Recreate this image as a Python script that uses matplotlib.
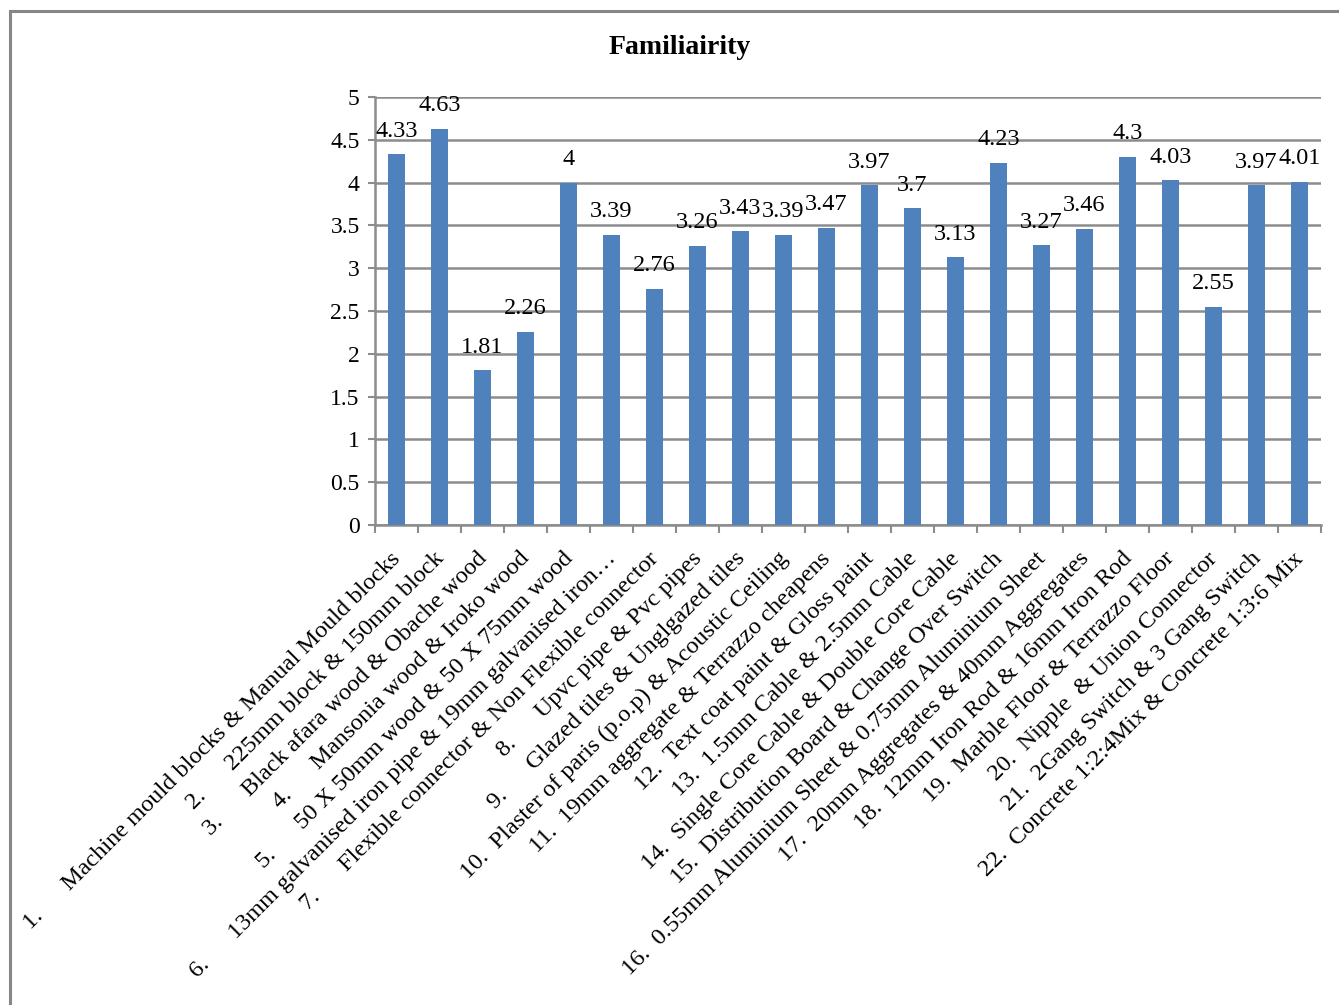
#!/usr/bin/env python3
# -*- coding: utf-8 -*-
"""Familiairity bar chart (Excel style) re-drawn with matplotlib."""

import numpy as np
import matplotlib
matplotlib.use("Agg")
import matplotlib.pyplot as plt
from matplotlib.patches import Rectangle
from matplotlib.transforms import ScaledTranslation

# ----------------------------------------------------------------------
# data
# ----------------------------------------------------------------------
TAB1 = "      "  # tab gap after single-digit numbers
TAB2 = "  "      # tab gap after two-digit numbers

item_names = [
    "Machine mould blocks & Manual Mould blocks",
    "225mm block & 150mm block",
    "Black afara wood & Obache wood",
    "Mansonia wood & Iroko wood",
    "50 X 50mm wood & 50 X 75mm wood",
    "13mm galvanised iron pipe & 19mm galvanised iron…",
    "Flexible connector & Non Flexible connector",
    "Upvc pipe & Pvc pipes",
    "Glazed tiles & Unglgazed tiles",
    "Plaster of paris (p.o.p) & Acoustic Ceiling",
    "19mm aggregate & Terrazzo cheapens",
    "Text coat paint & Gloss paint",
    "1.5mm Cable & 2.5mm Cable",
    "Single Core Cable & Double Core Cable",
    "Distribution Board & Change Over Switch",
    "0.55mm Aluminium Sheet & 0.75mm Aluminium Sheet",
    "20mm Aggregates & 40mm Aggregates",
    "12mm Iron Rod & 16mm Iron Rod",
    "Marble Floor & Terrazzo Floor",
    "Nipple  & Union Connector",
    "2Gang Switch & 3 Gang Switch",
    "Concrete 1:2:4Mix & Concrete 1:3:6 Mix",
]

familiarity = [4.33, 4.63, 1.81, 2.26, 4, 3.39, 2.76, 3.26, 3.43, 3.39, 3.47,
               3.97, 3.7, 3.13, 4.23, 3.27, 3.46, 4.3, 4.03, 2.55, 3.97, 4.01]

y_ticks = [0, 0.5, 1, 1.5, 2, 2.5, 3, 3.5, 4, 4.5, 5]

# ----------------------------------------------------------------------
# figure
# ----------------------------------------------------------------------
plt.rcParams["font.family"] = ["Liberation Serif", "DejaVu Serif"]

W, H = 1339, 1005
fig = plt.figure(figsize=(W / 100, H / 100), dpi=100)
fig.patch.set_facecolor("white")

# chart area border (only top/left visible, rest cropped off)
fig.patches.append(Rectangle((9.5 / W, -0.2), 1.2, 1.2 - 10.5 / H,
                             transform=fig.transFigure, fill=False,
                             edgecolor="#868686", linewidth=2.2))

ax = fig.add_axes([375 / W, 1 - 525 / H, (1321 - 375) / W, (525 - 97) / H])

n = len(familiarity)
x = np.arange(n)
grid_col = "#8c8c8c"

ax.bar(x, familiarity, width=0.38, color="#4F81BD", zorder=3)

ax.set_xlim(-0.5, n - 0.5)
ax.set_ylim(0, 5)
ax.set_yticks(y_ticks)
ax.set_yticklabels([f"{v:g}" for v in y_ticks], fontsize=17)
ax.yaxis.grid(True, color=grid_col, linewidth=1.8, zorder=0)

for s in ("top", "right"):
    ax.spines[s].set_visible(False)
for s in ("left", "bottom"):
    ax.spines[s].set_color(grid_col)
    ax.spines[s].set_linewidth(1.8)

ax.tick_params(axis="y", length=5, width=1.5, color=grid_col, pad=6)

# category boundary ticks
ax.set_xticks(np.arange(n + 1) - 0.5, minor=True)
ax.tick_params(axis="x", which="minor", length=6, width=1.5, color=grid_col)
ax.tick_params(axis="x", which="major", length=0, pad=22)

labels = []
for i, name in enumerate(item_names, start=1):
    gap = TAB1 if i < 10 else TAB2
    labels.append(f"{i}.{gap}{name}")
ax.set_xticks(x)
ax.set_xticklabels(labels, rotation=45, ha="right", va="center",
                   rotation_mode="anchor", fontsize=17.5)
shift = ScaledTranslation(0.01, 0, fig.dpi_scale_trans)
for lbl in ax.get_xticklabels():
    lbl.set_transform(lbl.get_transform() + shift)

# data labels
for xi, v in zip(x, familiarity):
    ax.annotate(f"{v:g}", (xi, v), xytext=(0, 9), textcoords="offset points",
                ha="center", va="bottom", fontsize=17.5)

fig.text(680 / W, 1 - 47 / H, "Familiairity", ha="center", va="center",
         fontsize=20, fontweight="bold")

fig.savefig("out.png", dpi=100, facecolor="white")
